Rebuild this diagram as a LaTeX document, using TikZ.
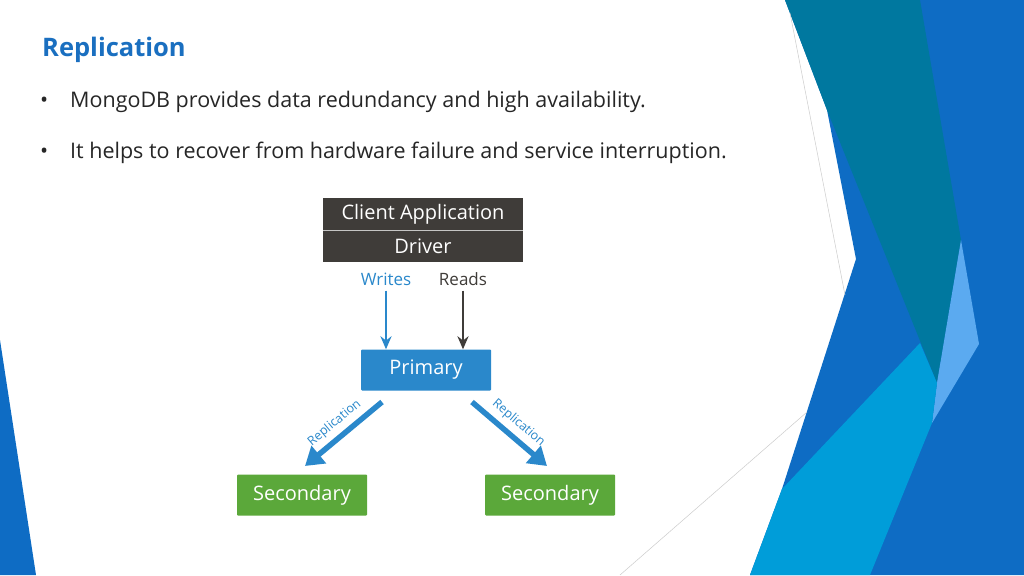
\documentclass[tikz,border=0pt]{standalone}
\usepackage{fontspec}
\setmainfont{Open Sans}
\usetikzlibrary{arrows.meta,positioning}
\definecolor{deepblue}{HTML}{0E6CC4}
\definecolor{tealblue}{HTML}{00789F}
\definecolor{skyblue}{HTML}{5BAAF0}
\definecolor{cyanblue}{HTML}{009DD9}
\definecolor{titleblue}{HTML}{1A6FC0}
\definecolor{drvgray}{HTML}{3F3C39}
\definecolor{primblue}{HTML}{2A88CB}
\definecolor{secgreen}{HTML}{5BA83A}
\tikzset{box/.style={minimum height=41, text=white, font=\fontsize{20}{20}\selectfont, inner sep=0, rounded corners=1}}
\tikzset{myptr1/.style={-{Stealth[length=13,width=11]}, line width=2.2}}
\tikzset{myptr2/.style={-{Triangle[length=18,width=22]}, line width=5.5, primblue}}
\tikzset{bul/.style={anchor=base west, font=\fontsize{21.5}{21.5}\selectfont, inner sep=0, text=black!85}}
\tikzset{replab/.style={midway, sloped, anchor=south, yshift=5, text=primblue, font=\fontsize{12.5}{12.5}\selectfont, inner sep=0}}

\begin{document}
\begin{tikzpicture}[x=1pt,y=-1pt]

	  \useasboundingbox (0,0) rectangle (1024,575);
	  \fill [white] (0,0) rectangle (1024,575);

	  % right side decoration
	  \fill [deepblue] (785,0) -- (1024,0) -- (1024,575) -- (750,575) -- (782,489) -- (856,259) -- (827,110) -- cycle;
	  \fill [tealblue] (785,0) -- (920,0) -- (961,240) -- (937,383) -- (827,110) -- cycle;
	  \fill [skyblue] (961,240) -- (979,344) -- (932,423) -- (937,383) -- cycle;
	  \fill [cyanblue] (920,343) -- (937,383) -- (932,423) -- (870,575) -- (750,575) -- (782,489) -- cycle;
	  \draw [black!20, line width=0.5] (790,13) -- (845,295);
	  \draw [black!20, line width=0.5] (807,412) -- (620,575);
	  \fill [deepblue] (0,340) -- (36,575) -- (0,575) -- cycle;

	  % title and bullets
	  \node [anchor=base west, text=titleblue, font=\fontsize{25.5}{25.5}\selectfont\bfseries, inner sep=0] (title) at (42,57) {Replication};
	  \node [bul] (b1) at (70,107) {MongoDB provides data redundancy and high availability.};
	  \node [bul] (b2) at (70,158) {It helps to recover from hardware failure and service interruption.};
	  \node [bul] (d1) at (40,107) {\textbullet};
	  \node [bul] (d2) at (40,158) {\textbullet};

	  % diagram
	  \node [box, fill=drvgray, minimum width=200, minimum height=32, rounded corners=0] (client) at (423,214) {Client Application};
	  \node [box, fill=drvgray, minimum width=200, minimum height=32, rounded corners=0, below=0 of client] (driver) {Driver};
	  \draw [white!70!drvgray, line width=0.6] (client.south west) -- (client.south east);

	  \node [text=primblue, font=\fontsize{17}{17}\selectfont, inner sep=0] (writes) at (386,279) {Writes};
	  \node [text=drvgray, font=\fontsize{17}{17}\selectfont, inner sep=0] (reads) at (463,279) {Reads};

	  \node [box, fill=primblue, minimum width=130] (primary) at (426,370) {Primary};
	  \node [box, fill=secgreen, minimum width=130] (secl) at (302,495) {Secondary};
	  \node [box, fill=secgreen, minimum width=130] (secr) at (550,495) {Secondary};

	  \draw [myptr1, primblue] (writes.south) ++(0,5) -- (writes.south |- primary.north);
	  \draw [myptr1, drvgray] (reads.south) ++(0,5) -- (reads.south |- primary.north);

	  \coordinate (repl1) at (382,402);
	  \coordinate (repl2) at (305,466);
	  \coordinate (repr1) at (472,402);
	  \coordinate (repr2) at (547,466);
	  \draw [myptr2] (repl1) -- (repl2) node [replab] {Replication};
	  \draw [myptr2] (repr1) -- (repr2) node [replab] {Replication};

\end{tikzpicture}
\end{document}
